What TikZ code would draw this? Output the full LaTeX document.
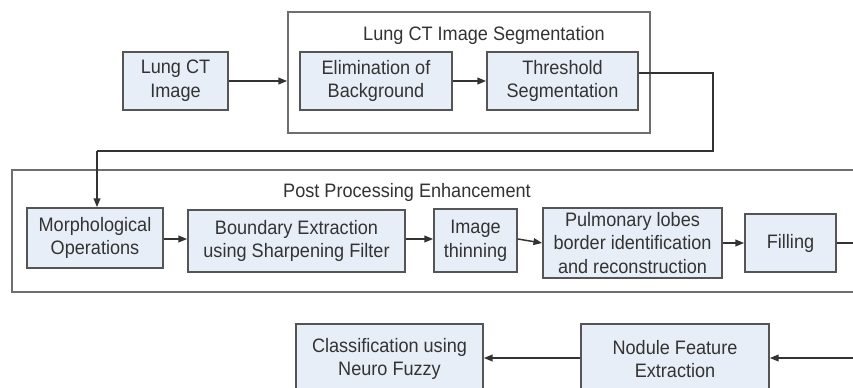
\documentclass[tikz,border=0pt]{standalone}
\usepackage{fontspec}
\setmainfont{Liberation Sans}[FakeStretch=0.93]
\usetikzlibrary{arrows.meta}
\definecolor{boxfill}{HTML}{E8EEF7}
\definecolor{boxdraw}{HTML}{555555}
\definecolor{txt}{HTML}{333333}
\tikzset{
  blk/.style={draw=boxdraw, fill=boxfill, line width=1.3pt, align=center, inner sep=0pt,
    text=txt, font=\fontsize{14.6pt}{17.8pt}\selectfont},
  grp/.style={draw=boxdraw!85, line width=1.3pt},
  ttl/.style={text=txt, font=\fontsize{14.6pt}{17.8pt}\selectfont, inner sep=0pt},
  conn/.style={draw=txt, line width=1.1pt, -{Triangle[length=6.5pt,width=5pt]}},
  plain/.style={draw=txt, line width=1.1pt}
}
\begin{document}
\begin{tikzpicture}[x=0.75pt, y=-0.75pt]
\useasboundingbox (0,0) rectangle (853,387);
\clip (0,0) rectangle (853,387);
\fill[white] (0,0) rectangle (853,387);
% group frames
\node[grp, minimum width=362*0.75pt, minimum height=121*0.75pt, inner sep=0pt] (seg) at (469,72.5) {};
\node[grp, minimum width=870*0.75pt, minimum height=122*0.75pt, inner sep=0pt] (post) at (447,231) {};
\node[ttl] (segt) at (484,35) {Lung CT Image Segmentation};
\node[ttl] (postt) at (407,192) {Post Processing Enhancement};
% blocks
\node[blk, minimum width=105*0.75pt, minimum height=58*0.75pt] (img) at (175.5,81) {Lung CT\\Image};
\node[blk, minimum width=152*0.75pt, minimum height=58*0.75pt] (elim) at (376,81) {Elimination of\\Background};
\node[blk, minimum width=151*0.75pt, minimum height=58*0.75pt] (thr) at (562.5,81) {Threshold\\Segmentation};
\node[blk, minimum width=136*0.75pt, minimum height=60*0.75pt] (morph) at (95,238) {Morphological\\Operations};
\node[blk, minimum width=217*0.75pt, minimum height=62*0.75pt] (bound) at (296.5,241) {Boundary Extraction\\using Sharpening Filter};
\node[blk, minimum width=83*0.75pt, minimum height=63*0.75pt] (thin) at (475.5,240.5) {Image\\thinning};
\node[blk, minimum width=179*0.75pt, minimum height=70*0.75pt] (pulm) at (632.5,243) {Pulmonary lobes\\border identification\\and reconstruction};
\node[blk, minimum width=91*0.75pt, minimum height=58*0.75pt] (fill) at (790.5,243) {Filling};
\node[blk, minimum width=187*0.75pt, minimum height=70*0.75pt] (cls) at (389.5,359) {Classification using\\Neuro Fuzzy};
\node[blk, minimum width=188*0.75pt, minimum height=70*0.75pt] (nod) at (675,359) {Nodule Feature\\Extraction};
% coordinates
\coordinate (c1) at (713,73);
\coordinate (c2) at (713,151);
\coordinate (c3) at (97,151);
\coordinate (eR1) at (860,243);
\coordinate (eR2) at (860,358);
% connectors
\draw[conn] (img.east |- 0,81) -- (seg.west |- 0,81);
\draw[conn] (elim) -- (thr);
\draw[plain] (thr.east |- c1) -- (c1) -- (c2) -- (c3);
\draw[conn] (c3) -- (c3 |- morph.north);
\draw[conn] (morph.east |- 0,239) -- (bound.west |- 0,239);
\draw[conn] (bound.east |- 0,239) -- (thin.west |- 0,239);
\draw[conn] (thin.east |- 0,239) -- (pulm.west |- 0,243);
\draw[conn] (pulm) -- (fill);
\draw[plain] (fill) -- (eR1);
\draw[conn] (eR2) -- (nod.east |- eR2);
\draw[conn] (nod.west |- eR2) -- (cls.east |- eR2);
\end{tikzpicture}
\end{document}
